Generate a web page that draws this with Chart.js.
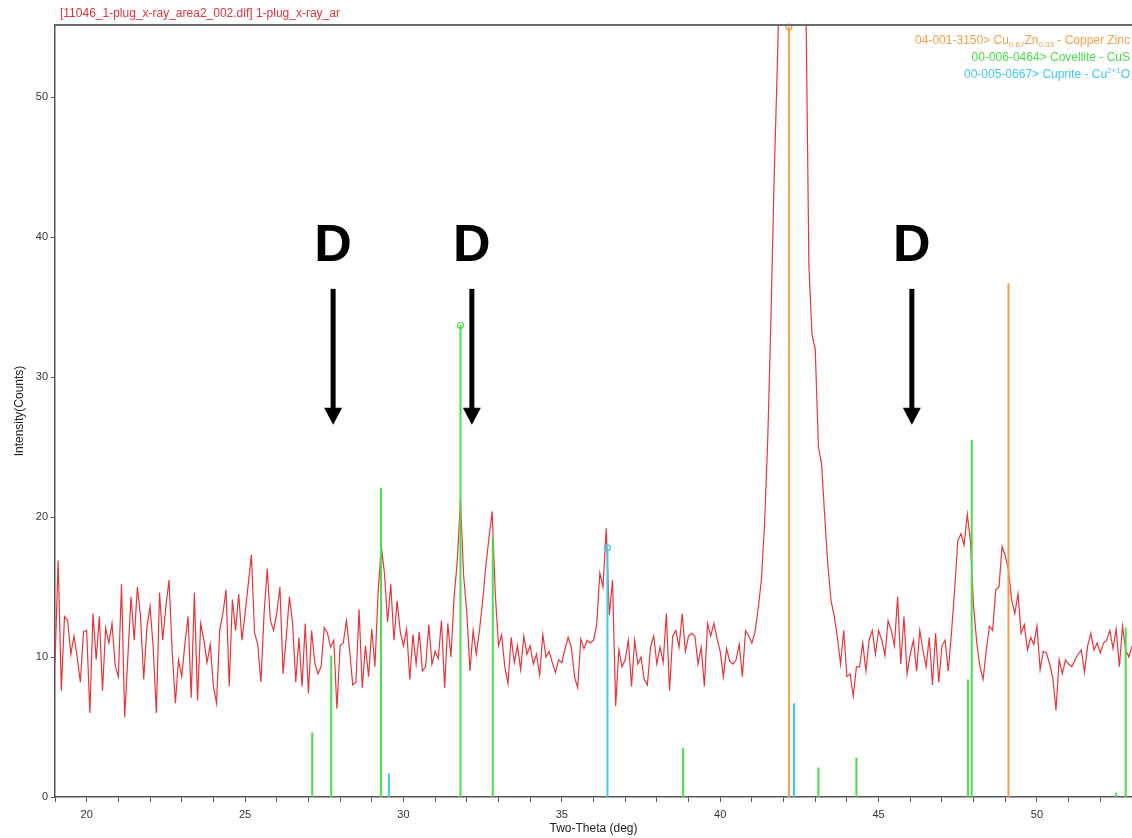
<!DOCTYPE html>
<html>
<head>
<meta charset="utf-8">
<script src="https://cdn.jsdelivr.net/npm/chart.js@4.4.1/dist/chart.umd.min.js"></script>
<style>
html, body { margin: 0; padding: 0; background: #fff; }
#wrap { width: 1132px; height: 838px; }
</style>
</head>
<body>
<div id="wrap"><canvas id="xrd"></canvas></div>
<script>
// scan 19.0 .. 53.0 deg, step 0.1 deg (one row = one degree)
const scanStart = 19.0;
const scanStep = 0.1;
const counts = [
  9.6, 16.9, 7.6, 12.9, 12.6, 10.2, 11.5, 10.0, 8.2, 11.8,      // 19
  11.9, 6.0, 13.1, 9.8, 12.9, 7.6, 12.1, 11.0, 12.4, 9.4,       // 20
  8.6, 15.2, 5.7, 10.0, 14.3, 11.2, 15.0, 12.9, 8.4, 12.1,      // 21
  13.6, 10.7, 6.0, 14.6, 11.2, 13.6, 15.5, 10.4, 6.7, 9.8,      // 22
  8.6, 10.9, 12.9, 7.1, 14.6, 6.9, 12.4, 11.2, 9.6, 10.9,       // 23
  7.9, 6.7, 11.9, 13.1, 14.8, 7.9, 14.1, 11.9, 14.5, 11.2,      // 24
  13.1, 15.2, 17.3, 11.7, 10.9, 8.2, 13.1, 16.3, 12.6, 11.9,    // 25
  13.1, 15.0, 8.8, 11.4, 14.3, 12.4, 8.2, 11.4, 7.9, 12.4,      // 26
  7.4, 11.9, 9.6, 8.8, 9.3, 12.1, 11.7, 10.7, 11.2, 6.3,        // 27
  10.8, 11.0, 12.6, 10.5, 8.0, 8.2, 13.4, 7.8, 10.8, 8.6,       // 28
  12.0, 9.3, 14.6, 17.9, 16.0, 12.5, 15.2, 11.2, 14.0, 11.8,    // 29
  10.8, 12.0, 8.4, 11.6, 9.5, 11.8, 9.0, 9.3, 12.3, 9.5,        // 30
  10.4, 9.9, 12.6, 7.8, 12.4, 10.0, 14.3, 16.9, 21.2, 15.8,     // 31
  13.2, 9.0, 11.9, 10.2, 11.9, 14.0, 16.5, 18.5, 20.4, 14.5,    // 32
  10.8, 11.6, 9.3, 8.1, 11.4, 9.6, 10.8, 9.1, 11.5, 10.2,       // 33
  10.8, 9.5, 10.2, 8.7, 11.6, 10.0, 10.4, 9.6, 8.9, 9.8,        // 34
  9.6, 10.6, 11.4, 10.7, 8.6, 7.8, 11.3, 10.6, 11.2, 11.0,      // 35
  11.2, 12.3, 16.0, 15.0, 19.2, 13.0, 15.5, 6.5, 10.5, 9.3,     // 36
  9.8, 11.2, 7.9, 11.2, 9.5, 10.0, 8.4, 8.0, 10.7, 11.5,        // 37
  9.5, 10.7, 9.6, 13.1, 7.6, 11.5, 11.9, 10.7, 13.1, 10.4,      // 38
  11.5, 11.7, 11.5, 9.5, 10.7, 7.9, 12.4, 11.5, 12.4, 11.3,     // 39
  10.4, 8.6, 10.6, 9.7, 9.5, 9.8, 10.9, 8.6, 11.9, 11.5,        // 40
  11.0, 11.8, 13.5, 15.5, 19.5, 25.5, 34.0, 44.0, 52.0, 61.0,   // 41
  70.0, 77.0, 80.0, 79.0, 75.0, 70.0, 64.0, 58.0, 38.0, 33.0,   // 42
  32.0, 25.0, 23.8, 20.0, 16.5, 14.0, 12.9, 11.4, 9.5, 11.9,    // 43
  8.6, 8.8, 7.2, 9.3, 9.3, 11.0, 9.0, 11.2, 11.9, 10.2,         // 44
  11.9, 11.2, 10.1, 12.6, 11.9, 10.8, 14.3, 9.5, 12.9, 8.8,     // 45
  10.2, 11.2, 9.0, 11.9, 10.5, 9.3, 11.4, 8.0, 11.7, 8.2,       // 46
  10.8, 11.2, 9.0, 11.7, 14.8, 18.3, 18.8, 18.0, 20.2, 18.3,    // 47
  13.6, 11.0, 9.3, 8.4, 10.5, 12.2, 11.9, 14.8, 15.0, 17.9,     // 48
  17.2, 16.2, 14.1, 13.1, 14.5, 11.7, 12.3, 10.5, 11.4, 10.9,   // 49
  12.2, 9.1, 10.4, 10.3, 9.5, 8.5, 6.2, 9.8, 8.8, 9.8,          // 50
  9.5, 9.3, 9.8, 10.2, 10.5, 8.9, 10.8, 11.7, 10.5, 11.0,       // 51
  10.3, 11.0, 11.2, 11.9, 10.6, 12.0, 9.3, 12.2, 10.5, 10.0,    // 52
  10.8                                                          // 53
];

// reference patterns (stick positions and heights)
const cuZnPos = [42.17, 49.10];
const cuZnInt = [55.0, 36.7];
const covPos = [27.12, 27.72, 29.29, 31.80, 32.82, 38.83, 43.10, 44.30, 47.82, 47.94, 52.50, 52.80];
const covInt = [4.6, 10.1, 22.1, 33.7, 18.6, 3.5, 2.1, 2.8, 8.4, 25.5, 0.3, 12.1];
const cupPos = [29.54, 36.44, 42.33];
const cupInt = [1.7, 17.8, 6.7];

const xTickLabels = [20, 25, 30, 35, 40, 45, 50];
const yTickLabels = [0, 10, 20, 30, 40, 50];

// "D" marks with arrows
const markPos = [27.78, 32.16, 46.05];
const markText = ['D', 'D', 'D'];
const markTextY = 39.3;
const arrowTop = 36.3;
const arrowTip = 26.6;

const fileTitle = '[11046_1-plug_x-ray_area2_002.dif] 1-plug_x-ray_ar';

const RED = '#e8353c';
const ORANGE = '#f2a04a';
const GREEN = '#4cdc4c';
const CYAN = '#3fc9f0';
const FONT = '"Liberation Sans", Arial, sans-serif';

// legend rows, split for sub/superscripts
const legendRows = [
    { color: ORANGE, parts: [['04-001-3150> Cu', 0], ['0.67', 1], ['Zn', 0], ['0.33', 1], [' - Copper Zinc', 0]] },
    { color: GREEN, parts: [['00-006-0464> Covellite - CuS', 0]] },
    { color: CYAN, parts: [['00-005-0667> Cuprite - Cu', 0], ['2+1', -1], ['O', 0]] }
];

function traceData() {
    const pts = [];
    for (let i = 0; i < counts.length; i++) {
        pts.push({ x: +(scanStart + i * scanStep).toFixed(2), y: counts[i] });
    }
    return pts;
}

function stickData(pos, inten) {
    const pts = [];
    for (let i = 0; i < pos.length; i++) {
        pts.push({ x: pos[i], y: 0 });
        pts.push({ x: pos[i], y: inten[i] });
        pts.push({ x: pos[i], y: null });
    }
    return pts;
}

function stickSet(pos, inten, color) {
    const top = inten.indexOf(Math.max(...inten)) * 3 + 1;
    return {
        data: stickData(pos, inten),
        borderColor: color,
        backgroundColor: 'rgba(255,255,255,0)',
        borderWidth: 2,
        pointRadius: c => c.dataIndex === top ? 3 : 0,
        pointBorderColor: color,
        pointBorderWidth: 1.2,
        spanGaps: false,
        tension: 0,
        order: 1
    };
}

const overlay = {
    id: 'overlay',
    afterDraw(chart) {
        const ctx = chart.ctx;
        const area = chart.chartArea;
        const xs = chart.scales.x;
        const ys = chart.scales.y;
        ctx.save();

        // frame top
        ctx.strokeStyle = '#6a6a6a';
        ctx.lineWidth = 2;
        ctx.beginPath();
        ctx.moveTo(area.left, area.top);
        ctx.lineTo(area.right, area.top);
        ctx.stroke();

        // file name
        ctx.fillStyle = '#e0343a';
        ctx.font = '12px ' + FONT;
        ctx.textAlign = 'left';
        ctx.textBaseline = 'alphabetic';
        ctx.fillText(fileTitle, 60, 17);

        // legend, right aligned
        legendRows.forEach((row, r) => {
            const base = 44 + r * 17;
            let w = 0;
            row.parts.forEach(p => {
                ctx.font = (p[1] ? '8px ' : '12px ') + FONT;
                w += ctx.measureText(p[0]).width;
            });
            let x = 1130 - w;
            ctx.fillStyle = row.color;
            row.parts.forEach(p => {
                ctx.font = (p[1] ? '8px ' : '12px ') + FONT;
                const dy = p[1] === 1 ? 3 : (p[1] === -1 ? -5 : 0);
                ctx.fillText(p[0], x, base + dy);
                x += ctx.measureText(p[0]).width;
            });
        });

        // D marks and arrows
        ctx.fillStyle = '#000';
        ctx.strokeStyle = '#000';
        markPos.forEach((p, i) => {
            const x = xs.getPixelForValue(p);
            ctx.font = 'bold 52px ' + FONT;
            ctx.textAlign = 'center';
            ctx.textBaseline = 'middle';
            ctx.fillText(markText[i], x, ys.getPixelForValue(markTextY));
            const y0 = ys.getPixelForValue(arrowTop);
            const y1 = ys.getPixelForValue(arrowTip);
            ctx.lineWidth = 5;
            ctx.beginPath();
            ctx.moveTo(x, y0);
            ctx.lineTo(x, y1 - 14);
            ctx.stroke();
            ctx.beginPath();
            ctx.moveTo(x - 9, y1 - 17);
            ctx.lineTo(x + 9, y1 - 17);
            ctx.lineTo(x, y1);
            ctx.closePath();
            ctx.fill();
        });
        ctx.restore();
    }
};

const cuZnSet = stickSet(cuZnPos, cuZnInt, ORANGE);
cuZnSet.clip = false;

new Chart(document.getElementById('xrd'), {
    type: 'line',
    data: {
        datasets: [
            {
                data: traceData(),
                borderColor: RED,
                borderWidth: 1.2,
                pointRadius: 0,
                tension: 0,
                order: 2
            },
            stickSet(covPos, covInt, GREEN),
            cuZnSet,
            stickSet(cupPos, cupInt, CYAN)
        ]
    },
    options: {
        responsive: true,
        maintainAspectRatio: false,
        animation: false,
        layout: { padding: { top: 25, right: 0, left: 0, bottom: 0 } },
        plugins: { legend: { display: false }, tooltip: { enabled: false } },
        scales: {
            x: {
                type: 'linear',
                min: 19,
                max: 53,
                afterFit: s => { s.height = 41; s.paddingRight = 0; s.paddingLeft = 0; },
                afterBuildTicks: s => {
                    const t = [];
                    for (let v = 19; v <= 53; v++) t.push({ value: v });
                    s.ticks = t;
                },
                ticks: {
                    autoSkip: false,
                    maxRotation: 0,
                    padding: 6,
                    color: '#333',
                    font: { family: FONT, size: 11 },
                    callback: v => xTickLabels.includes(v) ? String(v) : ''
                },
                grid: { drawOnChartArea: false, drawTicks: true, tickLength: 5, color: '#555' },
                border: { display: true, color: '#555', width: 1.5 },
                title: {
                    display: true,
                    text: 'Two-Theta (deg)',
                    color: '#222',
                    font: { family: FONT, size: 12 },
                    padding: { top: 0, bottom: 2 }
                }
            },
            y: {
                min: 0,
                max: 55.15,
                afterFit: s => { s.width = 55; },
                afterBuildTicks: s => { s.ticks = yTickLabels.map(v => ({ value: v })); },
                ticks: {
                    padding: 3,
                    color: '#333',
                    font: { family: FONT, size: 11 }
                },
                grid: { drawOnChartArea: false, drawTicks: true, tickLength: 4, color: '#555' },
                border: { display: true, color: '#555', width: 1.5 },
                title: {
                    display: true,
                    text: 'Intensity(Counts)',
                    color: '#222',
                    font: { family: FONT, size: 12 },
                    padding: { top: 12, bottom: 0 }
                }
            }
        }
    },
    plugins: [overlay]
});
</script>
</body>
</html>
